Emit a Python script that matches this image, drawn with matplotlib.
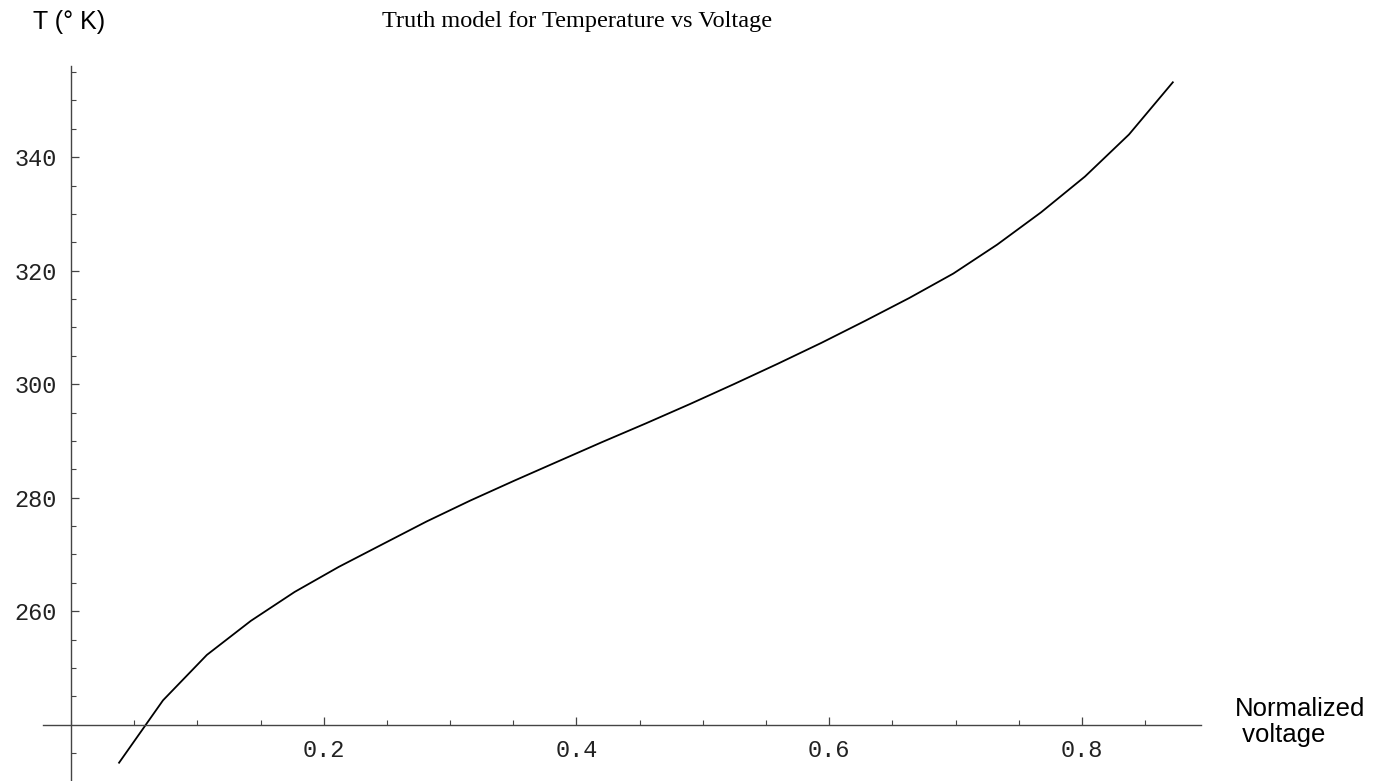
import numpy as np
import matplotlib.pyplot as plt
from matplotlib.ticker import MultipleLocator, FixedLocator

# normalized voltage and temperature (K)
voltage = [0.038, 0.0728, 0.1075, 0.1423, 0.177, 0.2118, 0.2465, 0.2813,
           0.316, 0.3508, 0.3855, 0.4203, 0.455, 0.4898, 0.5245, 0.5593,
           0.594, 0.6288, 0.6635, 0.6983, 0.733, 0.7678, 0.8025, 0.8373,
           0.872]
temperature = [233.3, 244.3, 252.3, 258.3, 263.4, 267.8, 271.8, 275.8,
               279.5, 283.0, 286.4, 289.8, 293.1, 296.5, 300.0, 303.6,
               307.3, 311.2, 315.2, 319.5, 324.6, 330.3, 336.6, 344.0,
               353.2]

xticks = [0.2, 0.4, 0.6, 0.8]
yticks = [260, 280, 300, 320, 340]

W, H = 1390, 781

fig = plt.figure(figsize=(W / 100, H / 100), dpi=100)
ax = fig.add_axes([43 / W, 0, 1158 / W, 715 / H])

ax.plot(voltage, temperature, color='black', lw=1.3)

ax.set_xlim(-0.0222, 0.8943)
ax.set_ylim(230.08, 356.07)

# Mathematica style axes crossing at (0, 240)
for s in ['top', 'right']:
    ax.spines[s].set_visible(False)
ax.spines['left'].set_position(('data', 0))
ax.spines['bottom'].set_position(('data', 240))
for s in ['left', 'bottom']:
    ax.spines[s].set_color('#444444')
    ax.spines[s].set_linewidth(1.0)

ax.xaxis.set_major_locator(FixedLocator(xticks))
ax.xaxis.set_minor_locator(MultipleLocator(0.05))
ax.yaxis.set_major_locator(FixedLocator(yticks))
ax.yaxis.set_minor_locator(FixedLocator([t for t in range(235, 360, 5) if t not in yticks and t != 240]))
ax.set_xticklabels(['%g' % t for t in xticks])
ax.set_yticklabels(['%d' % t for t in yticks])

mono = 'Liberation Mono'
ax.tick_params(which='major', direction='in', length=6, width=0.9, color='#444444',
               labelsize=17, labelcolor='#222222')
ax.tick_params(which='minor', direction='in', length=3.6, width=0.8, color='#444444')
ax.tick_params(axis='x', which='major', pad=10)
ax.tick_params(axis='y', which='major', pad=10)
for lab in ax.get_xticklabels() + ax.get_yticklabels():
    lab.set_family(mono)

fig.text(577 / W, 1 - 21 / H, 'Truth model for Temperature vs Voltage',
         family='Liberation Serif', fontsize=17.5, ha='center', va='center')
fig.text(33 / W, 1 - 22 / H, 'T (° K)', family='Liberation Sans',
         fontsize=18, ha='left', va='center')
fig.text(1235 / W, 1 - 722 / H, 'Normalized\n voltage', family='Liberation Sans',
         fontsize=18.5, ha='left', va='center', linespacing=1.1)

fig.savefig('out.png', dpi=100)
